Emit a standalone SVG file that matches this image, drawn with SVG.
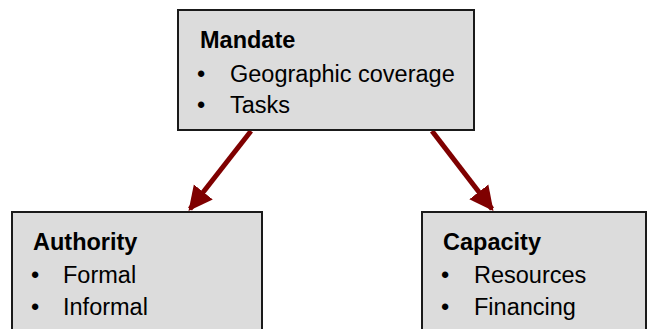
<svg xmlns="http://www.w3.org/2000/svg" width="659" height="329" viewBox="0 0 659 329">
  <style>
    .box { fill: #dcdcdc; stroke: #1a1a1a; stroke-width: 2; }
    .title { font-family: "Liberation Sans", Arial, sans-serif; font-size: 23.5px; font-weight: bold; fill: #000; }
    .item { font-family: "Liberation Sans", Arial, sans-serif; font-size: 23.5px; fill: #000; }
    .link { stroke: #7f0000; stroke-width: 5; fill: none; }
  </style>
  <defs>
    <marker id="head" viewBox="0 0 10 10" refX="9" refY="5" markerWidth="4.8" markerHeight="5" markerUnits="strokeWidth" orient="auto">
      <path d="M0,0 L10,5 L0,10 Z" fill="#7f0000"/>
    </marker>
  </defs>

  <rect width="659" height="329" fill="#ffffff"/>

  <g id="connectors">
    <line class="link" x1="251" y1="131" x2="190" y2="209" marker-end="url(#head)"/>
    <line class="link" x1="432" y1="131" x2="492" y2="209" marker-end="url(#head)"/>
  </g>

  <g id="mandate">
    <rect class="box" x="178" y="10" width="296" height="120"/>
    <text class="title" x="200" y="48">Mandate</text>
    <text class="item" x="197" y="82">•</text>
    <text class="item" x="230" y="82">Geographic coverage</text>
    <text class="item" x="197" y="113">•</text>
    <text class="item" x="230" y="113">Tasks</text>
  </g>

  <g id="authority">
    <rect class="box" x="12" y="212" width="250" height="130"/>
    <text class="title" x="33" y="250">Authority</text>
    <text class="item" x="31" y="283">•</text>
    <text class="item" x="63" y="283">Formal</text>
    <text class="item" x="31" y="315">•</text>
    <text class="item" x="63" y="315">Informal</text>
  </g>

  <g id="capacity">
    <rect class="box" x="422" y="212" width="224" height="130"/>
    <text class="title" x="443" y="250">Capacity</text>
    <text class="item" x="441" y="283">•</text>
    <text class="item" x="474" y="283">Resources</text>
    <text class="item" x="441" y="315">•</text>
    <text class="item" x="474" y="315">Financing</text>
  </g>
</svg>
